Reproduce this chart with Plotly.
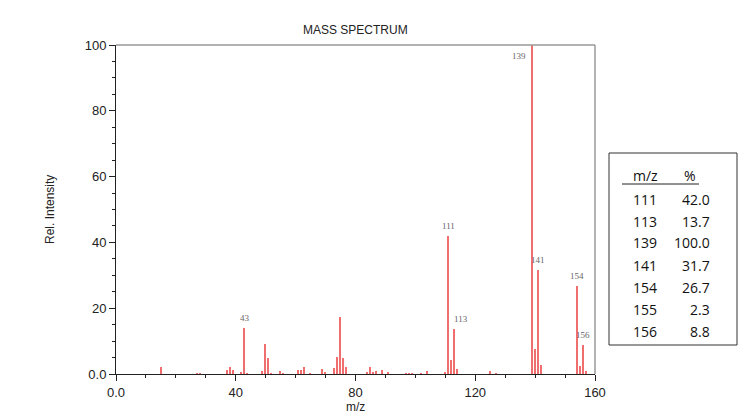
import plotly.graph_objects as go

# ---- data ----
mz = [15, 27, 28, 37, 38, 39, 42, 43, 44, 49, 50, 51, 52, 55, 56, 61, 62, 63, 65, 69, 70,
      73, 74, 75, 76, 77, 84, 85, 86, 87, 89, 91, 97, 98, 99, 102, 104, 110, 111, 112, 113,
      114, 125, 127, 139, 140, 141, 142, 154, 155, 156, 157]
intensity = [2.0, 0.3, 0.3, 1.2, 2.0, 1.2, 0.7, 13.9, 0.3, 0.9, 9.0, 4.8, 0.3, 1.0, 0.3, 1.2, 1.2,
             2.0, 0.3, 1.4, 0.5, 1.7, 5.3, 17.2, 4.8, 2.0, 0.4, 2.2, 0.5, 0.8, 1.3, 0.4, 0.3, 0.3,
             0.3, 0.3, 0.8, 0.4, 42.0, 4.3, 13.7, 1.4, 0.9, 0.3, 100.0, 7.6, 31.7, 2.7, 26.7, 2.3,
             8.8, 0.8]
labelled_peaks = [43, 111, 113, 139, 141, 154, 156]

table_mz = ["111", "113", "139", "141", "154", "155", "156"]
table_pct = ["42.0", "13.7", "100.0", "31.7", "26.7", "2.3", "8.8"]

x_tickvals = [0, 40, 80, 120, 160]
x_ticktext = ["0.0", "40", "80", "120", "160"]
y_tickvals = [0, 20, 40, 60, 80, 100]
y_ticktext = ["0.0", "20", "40", "60", "80", "100"]

# ---- layout helpers (pixel -> paper) ----
W, H = 748, 420
L, R, T, B = 116, 595, 45, 374
def px(x):
    return (x - L) / (R - L)
def py(y):
    return (B - y) / (B - T)

fig = go.Figure()
fig.add_trace(go.Bar(x=mz, y=intensity, width=0.5,
                     marker=dict(color="rgb(240,110,110)", line=dict(width=0)),
                     hoverinfo="x+y"))

annotations = []
lab_font = dict(family="Liberation Serif, DejaVu Serif, serif", size=9, color="#666")
for p in labelled_peaks:
    v = intensity[mz.index(p)]
    if p == 139:
        annotations.append(dict(x=p, y=v, xref="x", yref="y", text=str(p), showarrow=False,
                                xanchor="right", yanchor="top", xshift=-4, yshift=-4, font=lab_font))
    elif p == 113:
        annotations.append(dict(x=p, y=v, xref="x", yref="y", text=str(p), showarrow=False,
                                xanchor="left", yanchor="bottom", xshift=-2, yshift=3, font=lab_font))
    else:
        annotations.append(dict(x=p, y=v, xref="x", yref="y", text=str(p), showarrow=False,
                                xanchor="center", yanchor="bottom", yshift=3, font=lab_font))

txt_font = dict(family="Liberation Sans, Arial, sans-serif", size=12, color="#222")
annotations.append(dict(x=px(355), y=py(30), xref="paper", yref="paper", text="MASS SPECTRUM",
                        showarrow=False, xanchor="center", yanchor="middle", font=txt_font))
annotations.append(dict(x=px(50), y=py(210), xref="paper", yref="paper", text="Rel. Intensity",
                        showarrow=False, textangle=-90, xanchor="center", yanchor="middle", font=txt_font))
annotations.append(dict(x=px(355), y=py(407), xref="paper", yref="paper", text="m/z",
                        showarrow=False, xanchor="center", yanchor="middle", font=txt_font))

# table
tab_font = dict(family="Open Sans, Lato, sans-serif", size=14, color="#111")
annotations.append(dict(x=px(645), y=py(175), xref="paper", yref="paper", text="m/z",
                        showarrow=False, xanchor="center", yanchor="middle", font=tab_font))
annotations.append(dict(x=px(690), y=py(175), xref="paper", yref="paper", text="%",
                        showarrow=False, xanchor="center", yanchor="middle", font=tab_font))
for i, (m, pc) in enumerate(zip(table_mz, table_pct)):
    yy = 199 + 22 * i
    annotations.append(dict(x=px(645), y=py(yy), xref="paper", yref="paper", text=m,
                            showarrow=False, xanchor="center", yanchor="middle", font=tab_font))
    annotations.append(dict(x=px(712), y=py(yy), xref="paper", yref="paper", text=pc,
                            showarrow=False, xanchor="right", yanchor="middle", font=tab_font))

shapes = [
    dict(type="line", xref="paper", yref="paper", x0=0, x1=1, y0=1, y1=1,
         line=dict(color="#999", width=1.5)),
    dict(type="line", xref="paper", yref="paper", x0=1, x1=1, y0=0, y1=1,
         line=dict(color="#999", width=1.5)),
    dict(type="rect", xref="paper", yref="paper", x0=px(609), x1=px(737), y0=py(345), y1=py(153),
         line=dict(color="#333", width=1)),
    dict(type="line", xref="paper", yref="paper", x0=px(622), x1=px(699), y0=py(184), y1=py(184),
         line=dict(color="#222", width=1)),
]

fig.update_layout(
    width=W, height=H,
    margin=dict(l=L, r=W - R, t=T, b=H - B),
    paper_bgcolor="white", plot_bgcolor="white",
    showlegend=False, bargap=0,
    annotations=annotations, shapes=shapes,
    xaxis=dict(range=[0, 160], tickvals=x_tickvals, ticktext=x_ticktext,
               showgrid=False, zeroline=False, showline=True, linecolor="#222", linewidth=1,
               ticks="outside", ticklen=6, tickcolor="#222",
               minor=dict(dtick=10, tick0=0, ticks="outside", ticklen=3, tickcolor="#222"),
               tickfont=dict(family="Liberation Sans, Arial, sans-serif", size=13, color="#222")),
    yaxis=dict(range=[0, 100], tickvals=y_tickvals, ticktext=y_ticktext,
               showgrid=False, zeroline=False, showline=True, linecolor="#222", linewidth=1,
               ticks="outside", ticklen=6, tickcolor="#222",
               minor=dict(dtick=5, tick0=0, ticks="outside", ticklen=3, tickcolor="#222"),
               tickfont=dict(family="Liberation Sans, Arial, sans-serif", size=13, color="#222")),
)

fig.write_html("out.html")
